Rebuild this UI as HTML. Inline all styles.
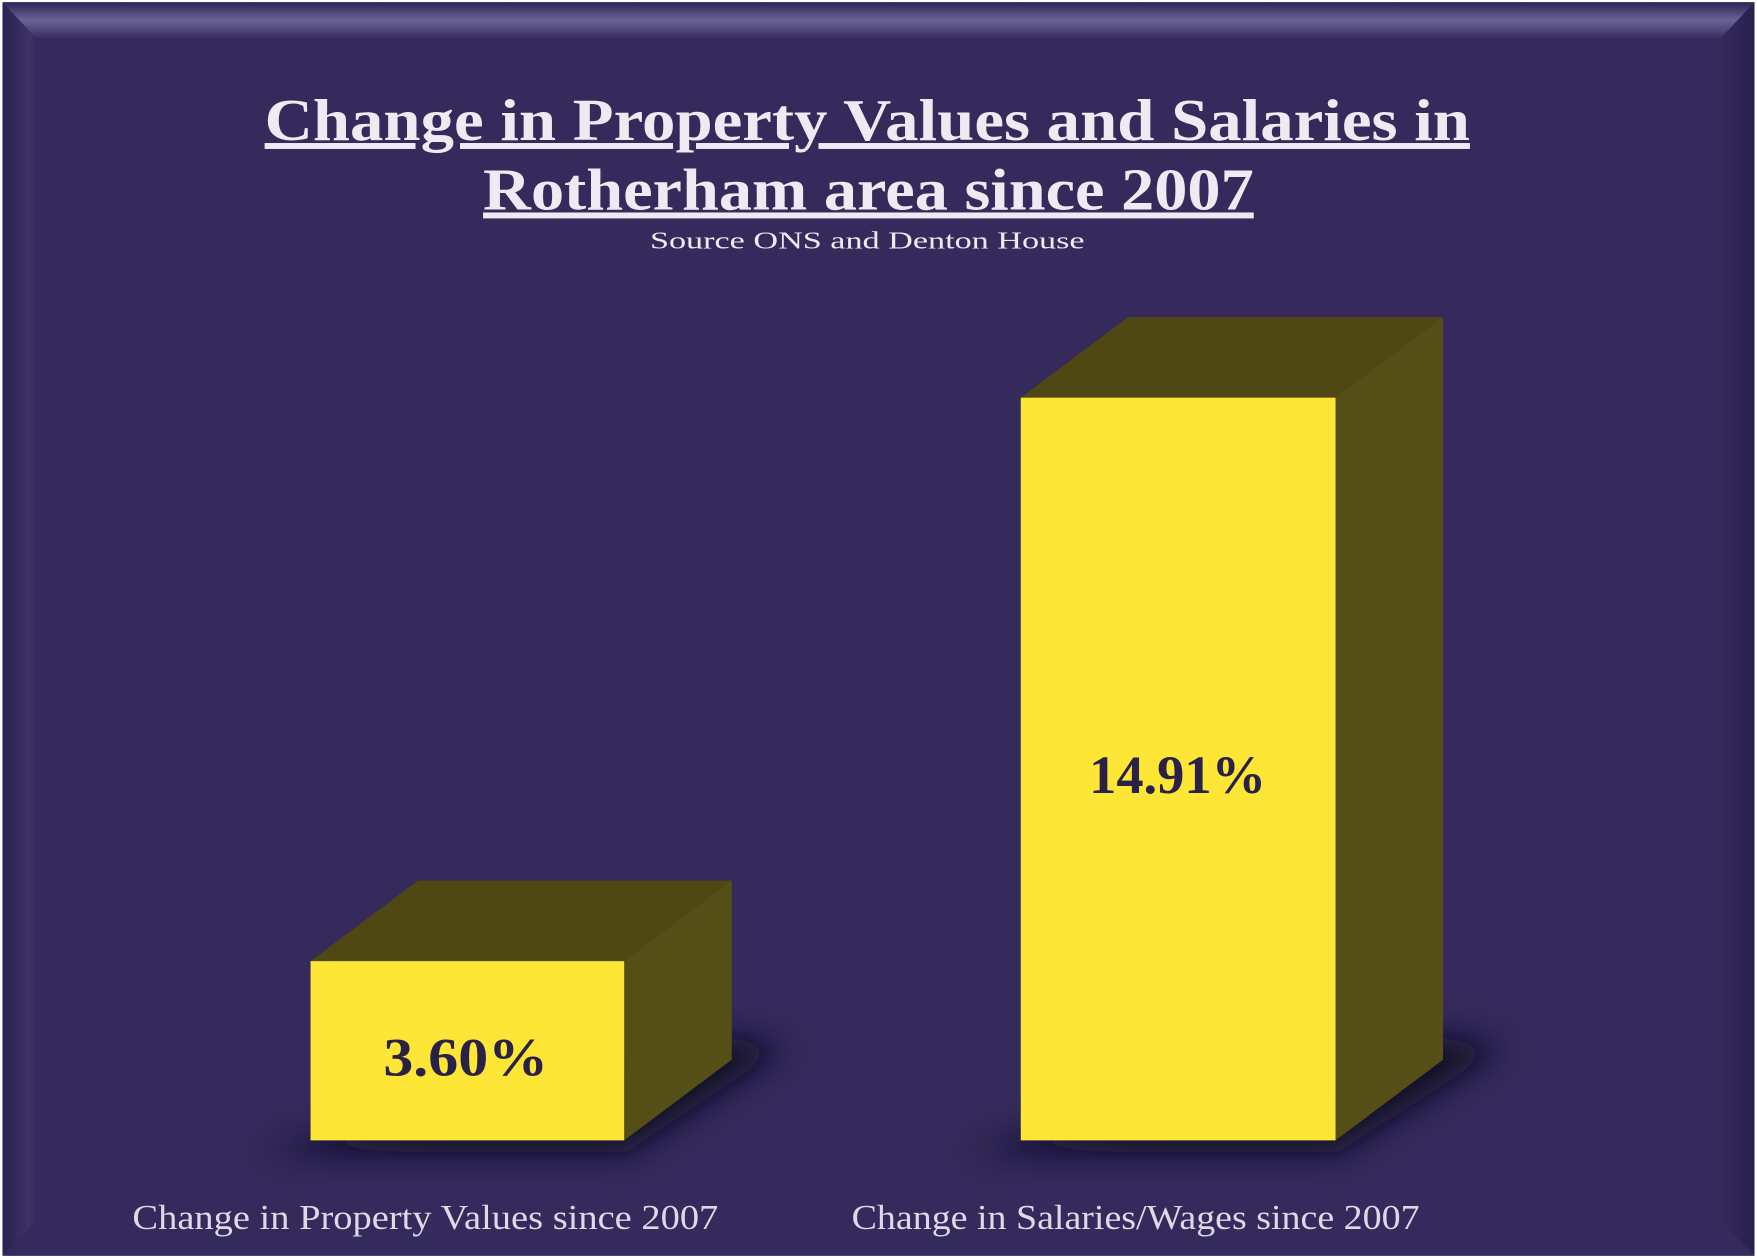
<!DOCTYPE html>
<html><head><meta charset="utf-8"><style>
html,body{margin:0;padding:0;background:#fff;}
svg{display:block;}
</style></head><body>
<svg width="1757" height="1258" viewBox="0 0 1568 1123" xmlns="http://www.w3.org/2000/svg">
<defs>
<linearGradient id="tb" x1="0" y1="0" x2="0" y2="1">
<stop offset="0" stop-color="#2e2456"/><stop offset="0.5" stop-color="#6b6298"/><stop offset="1" stop-color="#3a2f62"/></linearGradient>
<linearGradient id="lb" x1="0" y1="0" x2="1" y2="0">
<stop offset="0" stop-color="#2a2050"/><stop offset="0.8" stop-color="#3d3368"/><stop offset="1" stop-color="#352a5b"/></linearGradient>
<linearGradient id="rb" x1="1" y1="0" x2="0" y2="0">
<stop offset="0" stop-color="#2a2050"/><stop offset="1" stop-color="#342a5a"/></linearGradient>
<linearGradient id="bb" x1="0" y1="1" x2="0" y2="0">
<stop offset="0" stop-color="#342a5c"/><stop offset="1" stop-color="#352a5b"/></linearGradient>
<filter id="bl" x="-50%" y="-50%" width="200%" height="200%"><feGaussianBlur stdDeviation="14"/></filter>
</defs>
<rect x="0" y="0" width="1568" height="1123" fill="#fff"/>
<rect x="2" y="2" width="1564" height="1119" fill="#352a5b"/>
<polygon points="2,2 1566,2 1536,34 32,34" fill="url(#tb)"/>
<polygon points="2,2 32,34 32,1090 2,1121" fill="url(#lb)"/>
<polygon points="1566,2 1536,34 1536,1090 1566,1121" fill="url(#rb)"/>
<polygon points="2,1121 32,1090 1536,1090 1566,1121" fill="url(#bb)"/>

<text x="236" y="125" textLength="1076" lengthAdjust="spacingAndGlyphs" font-family="Liberation Serif, serif" font-weight="bold" font-size="53" fill="#eeeaf2" text-decoration="underline">Change in Property Values and Salaries in</text>
<text x="431" y="187" textLength="688" lengthAdjust="spacingAndGlyphs" font-family="Liberation Serif, serif" font-weight="bold" font-size="53" fill="#eeeaf2" text-decoration="underline">Rotherham area since 2007</text>
<text x="580" y="222" textLength="388" lengthAdjust="spacingAndGlyphs" font-family="Liberation Serif, serif" font-size="22" fill="#eeeaf2">Source ONS and Denton House</text>

<polygon points="235,1028 560,1028 700,935 640,925" fill="#100c22" filter="url(#bl)" opacity="0.95"/>
<polygon points="865,1028 1195,1028 1340,935 1280,925" fill="#100c22" filter="url(#bl)" opacity="0.95"/>

<polygon points="277,858 373,786 653,786 557,858" fill="#4f4813"/>
<polygon points="557,858 653,786 653,946 557,1018" fill="#564e17"/>
<rect x="277" y="858" width="280" height="160" fill="#fde635"/>
<polygon points="911,355 1007,283 1288,283 1192,355" fill="#4f4813"/>
<polygon points="1192,355 1288,283 1288,946 1192,1018" fill="#564e17"/>
<rect x="911" y="355" width="281" height="663" fill="#fde635"/>

<text x="342" y="960" textLength="147" lengthAdjust="spacingAndGlyphs" font-family="Liberation Serif, serif" font-weight="bold" font-size="48" fill="#2a2148">3.60%</text>
<text x="972" y="708" textLength="158" lengthAdjust="spacingAndGlyphs" font-family="Liberation Serif, serif" font-weight="bold" font-size="48" fill="#2a2148">14.91%</text>

<text x="118" y="1097" textLength="523" lengthAdjust="spacingAndGlyphs" font-family="Liberation Serif, serif" font-size="31" fill="#dcdae6">Change in Property Values  since 2007</text>
<text x="760" y="1097" textLength="507" lengthAdjust="spacingAndGlyphs" font-family="Liberation Serif, serif" font-size="31" fill="#dcdae6">Change in Salaries/Wages since 2007</text>
</svg>
</body></html>
